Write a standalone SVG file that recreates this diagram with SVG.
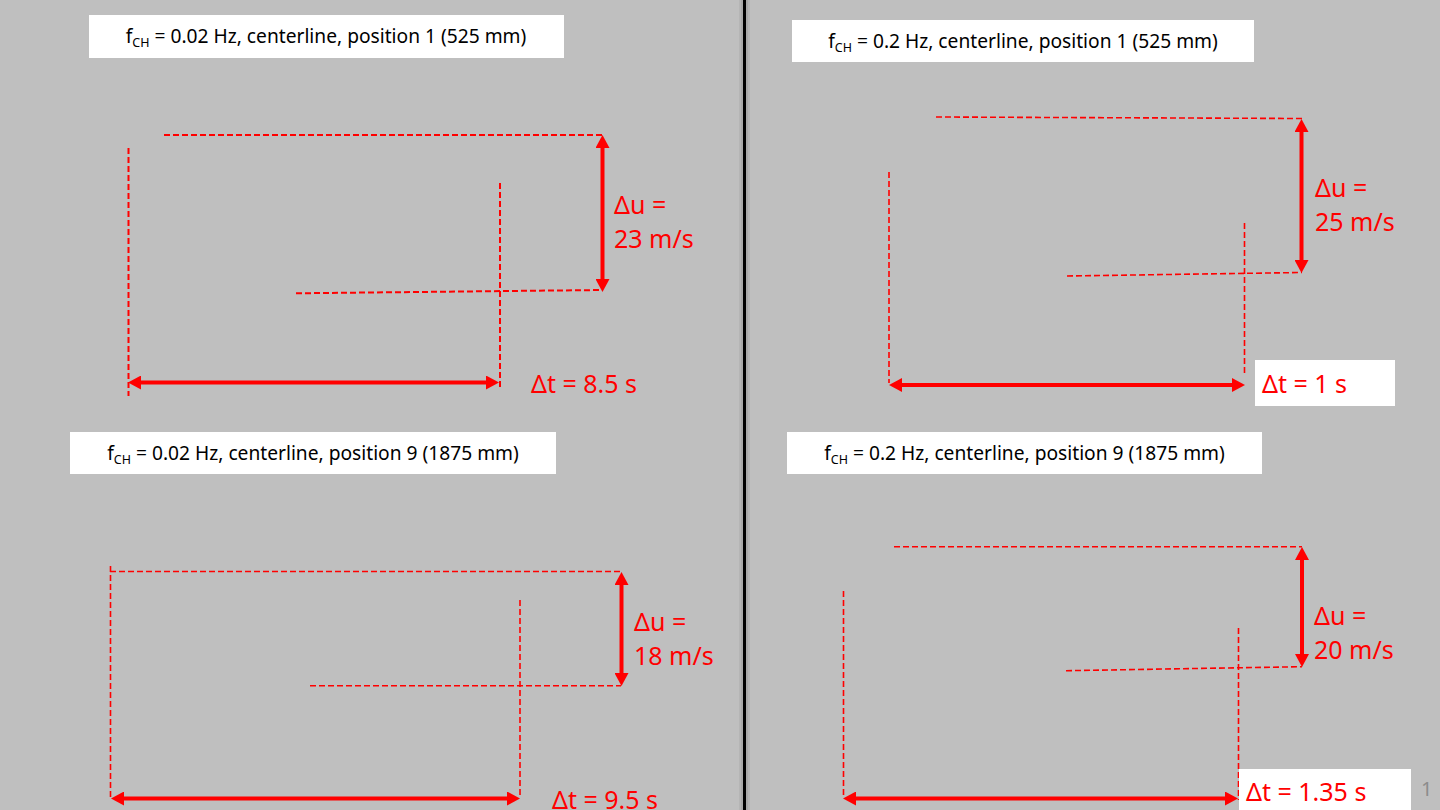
<svg xmlns="http://www.w3.org/2000/svg" width="1440" height="810" viewBox="0 0 1440 810">
<style>
.title{font-family:"Noto Sans","Liberation Sans",sans-serif;font-size:19.2px;fill:#000;text-anchor:middle}
.sub{font-size:12.5px}
.lbl{font-family:"Noto Sans","Liberation Sans",sans-serif;font-size:25px;fill:#ff0000}
.box{fill:#ffffff}
.dash{stroke:#ff0000;stroke-width:1.6;stroke-dasharray:6 3;fill:none}
.dash2{stroke:#ff0000;stroke-width:2;stroke-dasharray:6 3;fill:none}
.arr{stroke:#ff0000;stroke-width:4;fill:none;marker-start:url(#head);marker-end:url(#head)}
</style>
<defs>
<marker id="head" viewBox="0 0 13 14" markerWidth="13" markerHeight="14" markerUnits="userSpaceOnUse" refX="2" refY="7" orient="auto-start-reverse">
<path d="M0,0 L13,7 L0,14 z" fill="#ff0000"/>
</marker>
</defs>
<rect width="1440" height="810" fill="#bfbfbf"/>
<g id="divider">
<rect x="739" y="0" width="11" height="810" fill="#000" opacity="0.05"/>
<rect x="741" y="0" width="7" height="810" fill="#000" opacity="0.07"/>
<rect x="743" y="0" width="3" height="810" fill="#000"/>
</g>
<g id="title1">
<rect class="box" x="89" y="15" width="475" height="43"/>
<text class="title" x="326" y="43">f<tspan class="sub" dy="4">CH</tspan><tspan dy="-4"> = 0.02 Hz, centerline, position 1 (525 mm)</tspan></text>
</g>
<g id="title2">
<rect class="box" x="792" y="20" width="462" height="42"/>
<text class="title" x="1023" y="48">f<tspan class="sub" dy="4">CH</tspan><tspan dy="-4"> = 0.2 Hz, centerline, position 1 (525 mm)</tspan></text>
</g>
<g id="title3">
<rect class="box" x="70" y="432" width="486" height="42"/>
<text class="title" x="313" y="460">f<tspan class="sub" dy="4">CH</tspan><tspan dy="-4"> = 0.02 Hz, centerline, position 9 (1875 mm)</tspan></text>
</g>
<g id="title4">
<rect class="box" x="787" y="432" width="475" height="42"/>
<text class="title" x="1024.5" y="460">f<tspan class="sub" dy="4">CH</tspan><tspan dy="-4"> = 0.2 Hz, centerline, position 9 (1875 mm)</tspan></text>
</g>
<g id="connectors">
<!-- panel 1 -->
<line class="dash2" x1="128.5" y1="148" x2="128.5" y2="396"/>
<line class="dash2" x1="164" y1="135" x2="602" y2="135"/>
<line class="dash2" x1="500" y1="183" x2="500" y2="390"/>
<line class="dash2" x1="296" y1="293.3" x2="602" y2="290"/>
<line class="arr" x1="602.5" y1="146" x2="602.5" y2="281"/>
<line class="arr" x1="139" y1="382.5" x2="488" y2="382.5"/>
<!-- panel 2 -->
<line class="dash" x1="936" y1="117" x2="1302" y2="118.5"/>
<line class="dash" x1="889" y1="172" x2="889" y2="383"/>
<line class="dash" x1="1244.5" y1="223" x2="1244.5" y2="376"/>
<line class="dash" x1="1067" y1="276" x2="1302" y2="272.5"/>
<line class="arr" x1="1301.5" y1="130" x2="1301.5" y2="262"/>
<line class="arr" x1="900" y1="385" x2="1234" y2="385"/>
<!-- panel 3 -->
<line class="dash" x1="110.5" y1="566" x2="110.5" y2="798"/>
<line class="dash" x1="110" y1="571.5" x2="621" y2="571.5"/>
<line class="dash" x1="520" y1="600" x2="520" y2="797"/>
<line class="dash" x1="310" y1="685.7" x2="621" y2="685.7"/>
<line class="arr" x1="621.5" y1="583" x2="621.5" y2="675"/>
<line class="arr" x1="122" y1="798.5" x2="509" y2="798.5"/>
<!-- panel 4 -->
<line class="dash" x1="894" y1="546.7" x2="1302" y2="546.7"/>
<line class="dash" x1="843.5" y1="591" x2="843.5" y2="798"/>
<line class="dash" x1="1238.5" y1="628" x2="1238.5" y2="800"/>
<line class="dash" x1="1066" y1="670.7" x2="1302" y2="666.7"/>
<line class="arr" x1="1302" y1="558" x2="1302" y2="656"/>
<line class="arr" x1="854" y1="798.5" x2="1227" y2="798.5"/>
</g>
<g id="labels1">
<text class="lbl" x="614" y="214">Δu =</text>
<text class="lbl" x="614" y="248">23 m/s</text>
<text class="lbl" x="531" y="393">Δt = 8.5 s</text>
</g>
<g id="labels2">
<text class="lbl" x="1315" y="197">Δu =</text>
<text class="lbl" x="1315" y="231">25 m/s</text>
<rect class="box" x="1255" y="360" width="140" height="46"/>
<text class="lbl" x="1262" y="393">Δt = 1 s</text>
</g>
<g id="labels3">
<text class="lbl" x="634" y="631">Δu =</text>
<text class="lbl" x="634" y="665">18 m/s</text>
<text class="lbl" x="552" y="809">Δt = 9.5 s</text>
</g>
<g id="labels4">
<text class="lbl" x="1314" y="625">Δu =</text>
<text class="lbl" x="1314" y="659">20 m/s</text>
<rect class="box" x="1239" y="769" width="172" height="41"/>
<text class="lbl" x="1246" y="801">Δt = 1.35 s</text>
</g>
<g id="pagenum">
<text x="1421" y="796" font-family="Noto Sans, Liberation Sans, sans-serif" font-size="20" fill="#8c8c8c">1</text>
</g>
</svg>
